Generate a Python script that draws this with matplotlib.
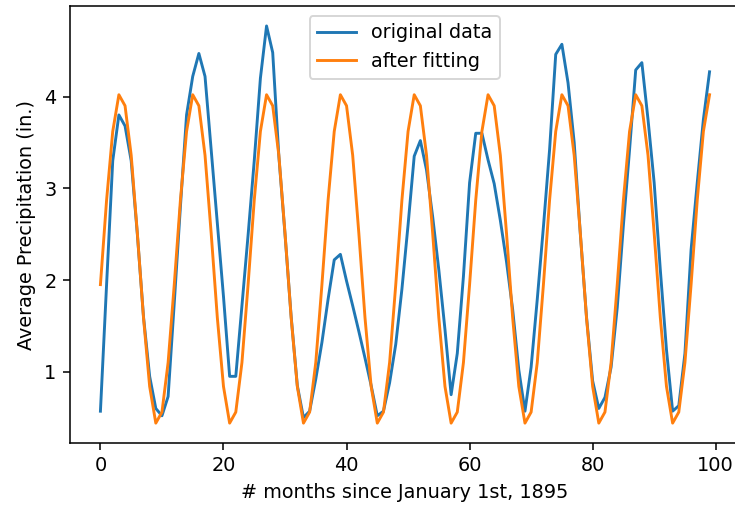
import matplotlib
matplotlib.use("Agg")
import matplotlib.pyplot as plt

months = list(range(100))

original = [0.57, 1.95, 3.30, 3.80, 3.68, 3.30, 2.50, 1.60, 0.95, 0.60,
            0.52, 0.73, 1.75, 2.80, 3.80, 4.22, 4.47, 4.22, 3.42, 2.62,
            1.82, 0.95, 0.95, 1.72, 2.49, 3.30, 4.20, 4.77, 4.48, 3.35,
            2.50, 1.60, 0.85, 0.50, 0.57, 0.92, 1.32, 1.79, 2.22, 2.28,
            1.99, 1.72, 1.44, 1.15, 0.85, 0.52, 0.57, 0.88, 1.30, 1.90,
            2.60, 3.35, 3.52, 3.20, 2.69, 2.11, 1.46, 0.75, 1.20, 2.04,
            3.06, 3.60, 3.60, 3.31, 3.05, 2.65, 2.20, 1.68, 1.02, 0.57,
            1.05, 1.79, 2.58, 3.42, 4.46, 4.57, 4.15, 3.50, 2.50, 1.60,
            0.90, 0.60, 0.72, 1.05, 1.70, 2.60, 3.42, 4.29, 4.37, 3.75,
            3.06, 2.11, 1.24, 0.57, 0.63, 1.20, 2.33, 3.06, 3.75, 4.27]

fitted = [1.95, 2.87, 3.62, 4.02, 3.90, 3.36, 2.51, 1.59, 0.84, 0.44,
          0.56, 1.10, 1.95, 2.87, 3.62, 4.02, 3.90, 3.36, 2.51, 1.59,
          0.84, 0.44, 0.56, 1.10, 1.95, 2.87, 3.62, 4.02, 3.90, 3.36,
          2.51, 1.59, 0.84, 0.44, 0.56, 1.10, 1.95, 2.87, 3.62, 4.02,
          3.90, 3.36, 2.51, 1.59, 0.84, 0.44, 0.56, 1.10, 1.95, 2.87,
          3.62, 4.02, 3.90, 3.36, 2.51, 1.59, 0.84, 0.44, 0.56, 1.10,
          1.95, 2.87, 3.62, 4.02, 3.90, 3.36, 2.51, 1.59, 0.84, 0.44,
          0.56, 1.10, 1.95, 2.87, 3.62, 4.02, 3.90, 3.36, 2.51, 1.59,
          0.84, 0.44, 0.56, 1.10, 1.95, 2.87, 3.62, 4.02, 3.90, 3.36,
          2.51, 1.59, 0.84, 0.44, 0.56, 1.10, 1.95, 2.87, 3.62, 4.02]

dpi = 139
fig = plt.figure(figsize=(735 / dpi, 508 / dpi), dpi=dpi)
ax = fig.add_axes([0.0952, 0.128, 0.9116, 0.860])

ax.plot(months, original, label='original data')
ax.plot(months, fitted, label='after fitting')

ax.set_xlabel('# months since January 1st, 1895')
ax.set_ylabel('Average Precipitation (in.)')
ax.set_yticks([1, 2, 3, 4])
ax.legend(loc='upper center')

fig.savefig("out.png", dpi=dpi)
